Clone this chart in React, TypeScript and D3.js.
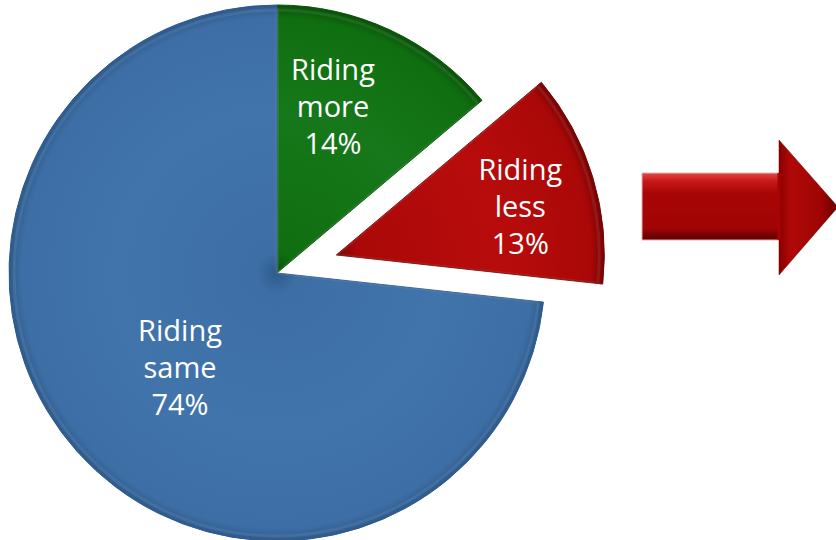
import React from "react";
import * as d3 from "d3";

// chart data
const categories = ["Riding more", "Riding less", "Riding same"];
const values = [14, 13, 74];
const labelLines = [
  ["Riding", "more", "14%"],
  ["Riding", "less", "13%"],
  ["Riding", "same", "74%"],
];
const exploded = [false, true, false];

const width = 836;
const height = 540;
const cx = 277;
const cy = 273;
const radius = 268;
const explodeDist = 62;

const palette = [
  { light: "#16781a", base: "#0f6e10", dark: "#0a520a" },
  { light: "#b80c0c", base: "#aa0808", dark: "#760404" },
  { light: "#4174ab", base: "#3d6fa6", dark: "#2e5a8c" },
];

// label centre offsets, relative to each slice's own origin
const labelPos = [
  { x: 56, y: -193 },
  { x: 184, y: -75 },
  { x: -97, y: 68 },
];

const App = () => {
  const slices = d3
    .pie<number>()
    .sort(null)
    .startAngle(0)
    .endAngle(2 * Math.PI)(values);

  const arc = d3.arc<d3.PieArcDatum<number>>().innerRadius(0).outerRadius(radius);
  const bevel = d3
    .arc<d3.PieArcDatum<number>>()
    .innerRadius(0)
    .outerRadius(radius - 5);

  return (
    <svg width={width} height={height} style={{ display: "block", position: "absolute", left: 0, top: 0 }}>
      <defs>
        {palette.map((p, i) => (
          <radialGradient key={i} id={`g${i}`} gradientUnits="userSpaceOnUse" cx={0} cy={0} r={radius}>
            <stop offset="0%" stopColor={p.dark} />
            <stop offset="8%" stopColor={p.base} />
            <stop offset="60%" stopColor={p.light} />
            <stop offset="95%" stopColor={p.base} />
            <stop offset="100%" stopColor={p.dark} />
          </radialGradient>
        ))}
        <linearGradient id="arrowBody" x1="0" y1="0" x2="0" y2="1">
          <stop offset="0%" stopColor="#e04848" />
          <stop offset="12%" stopColor="#c81818" />
          <stop offset="30%" stopColor="#a80606" />
          <stop offset="82%" stopColor="#a00404" />
          <stop offset="100%" stopColor="#5c0000" />
        </linearGradient>
        <linearGradient id="arrowHead" x1="0" y1="0" x2="1" y2="0">
          <stop offset="0%" stopColor="#8a0000" />
          <stop offset="20%" stopColor="#b00808" />
          <stop offset="70%" stopColor="#a00404" />
          <stop offset="100%" stopColor="#6a0000" />
        </linearGradient>
      </defs>

      {slices.map((s, i) => {
        const mid = (s.startAngle + s.endAngle) / 2;
        const dx = exploded[i] ? Math.sin(mid) * explodeDist : 0;
        const dy = exploded[i] ? -Math.cos(mid) * explodeDist : 0;
        const p = palette[i];
        return (
          <g key={categories[i]} transform={`translate(${cx + dx},${cy + dy})`}>
            <path d={arc(s) || ""} fill={`url(#g${i})`} stroke={p.dark} strokeWidth={1} />
            <path
              d={bevel(s) || ""}
              fill="none"
              stroke="#ffffff"
              strokeOpacity={0.08}
              strokeWidth={3}
            />
            <text
              textAnchor="middle"
              fill="#ffffff"
              fontFamily="'Open Sans', sans-serif"
              fontSize={29}
            >
              {labelLines[i].map((line, j) => (
                <tspan key={j} x={labelPos[i].x} y={labelPos[i].y + j * 37}>
                  {line}
                </tspan>
              ))}
            </text>
          </g>
        );
      })}

      {/* block arrow */}
      <g>
        <path d="M642,173 L785,173 L785,240 L642,240 Z" fill="url(#arrowBody)" stroke="#e8b0b0" strokeWidth={1} />
        <path d="M779,140 L838,207 L779,275 Z" fill="url(#arrowHead)" stroke="#5a0000" strokeWidth={0.5} />
        <path d="M779,173 L779,240" stroke="#a40404" strokeWidth={3} />
      </g>
    </svg>
  );
};

export default App;
